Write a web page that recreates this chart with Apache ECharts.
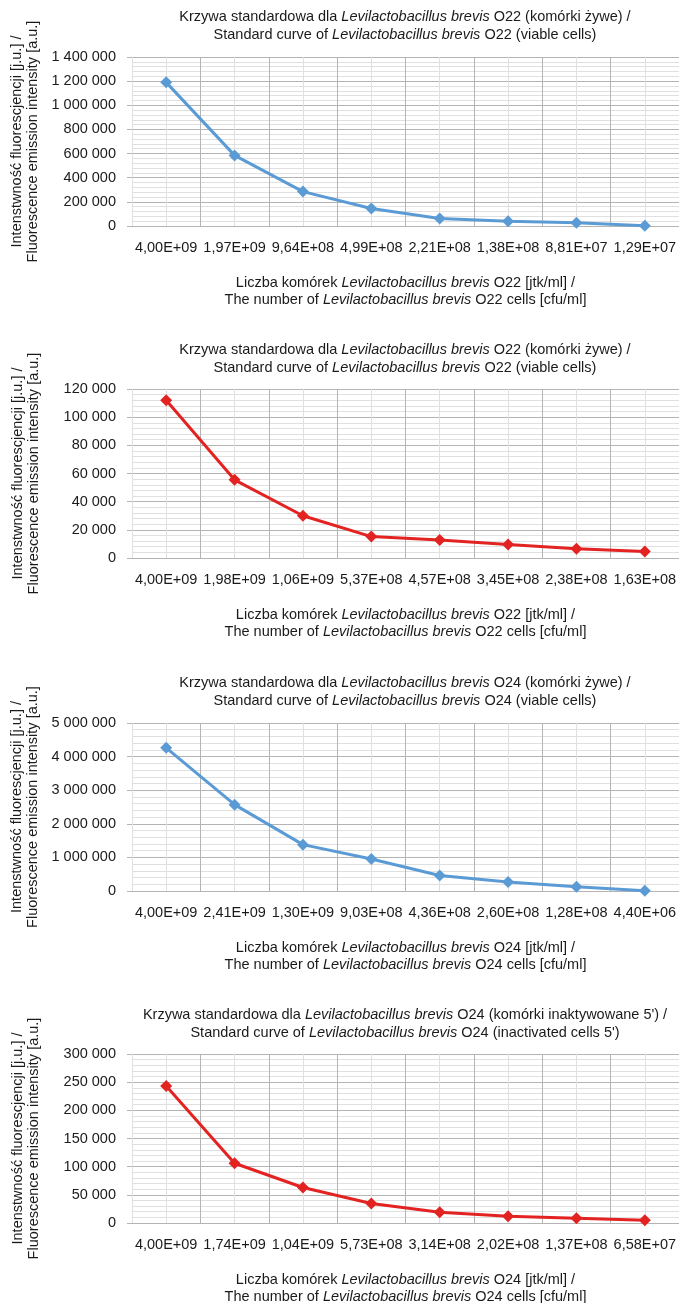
<!DOCTYPE html>
<html>
<head>
<meta charset="utf-8">
<script src="https://cdn.jsdelivr.net/npm/echarts@6/dist/echarts.min.js"></script>
<style>
html,body{margin:0;padding:0;background:#fff;}
#c{width:679px;height:1303px;}
</style>
</head>
<body>
<div id="c"></div>
<script>
// ---- data ----
const categories1 = ['4,00E+09','1,97E+09','9,64E+08','4,99E+08','2,21E+08','1,38E+08','8,81E+07','1,29E+07'];
const values1 = [1190000, 585000, 285000, 145000, 63000, 40000, 27000, 3000];

const categories2 = ['4,00E+09','1,98E+09','1,06E+09','5,37E+08','4,57E+08','3,45E+08','2,38E+08','1,63E+08'];
const values2 = [112000, 55500, 30000, 15200, 12800, 9500, 6600, 4600];

const categories3 = ['4,00E+09','2,41E+09','1,30E+09','9,03E+08','4,36E+08','2,60E+08','1,28E+08','4,40E+06'];
const values3 = [4260000, 2570000, 1380000, 950000, 460000, 270000, 130000, 10000];

const categories4 = ['4,00E+09','1,74E+09','1,04E+09','5,73E+08','3,14E+08','2,02E+08','1,37E+08','6,58E+07'];
const values4 = [243000, 106000, 63000, 34500, 19000, 12000, 8300, 4700];

const yMax = [1400000, 120000, 5000000, 300000];
const yStep = [200000, 20000, 1000000, 50000];

const strains = ['O22', 'O22', 'O24', 'O24'];
const statePL = ['komórki żywe', 'komórki żywe', 'komórki żywe', "komórki inaktywowane 5'"];
const stateEN = ['viable cells', 'viable cells', 'viable cells', "inactivated cells 5'"];
const yNameLines = ['Intenstwność fluorescjencji [j.u.] /', 'Fluorescence emission intensity [a.u.]'];
const species = 'Levilactobacillus brevis';

// ---- layout ----
const FONT = "'Liberation Sans', Arial, sans-serif";
const FS = 14.5;
const TXT = '#1a1a1a';
const MAJOR = '#b4b4b4';
const MINOR = '#e0e0e0';
const BLUE = '#5b9bd5';
const RED = '#e32322';
const gridTops = [57, 389, 723, 1054];
const gridH = [169, 169, 168, 169];
const titleTops = [8, 341, 674, 1006];

const rich = {
  n: {fontFamily: FONT, fontSize: FS, color: TXT, fontWeight: 'normal', lineHeight: 18.3},
  i: {fontFamily: FONT, fontSize: FS, color: TXT, fontWeight: 'normal', fontStyle: 'italic', lineHeight: 18.3}
};
const richAx = {
  n: {fontFamily: FONT, fontSize: FS, color: TXT, lineHeight: 17},
  i: {fontFamily: FONT, fontSize: FS, color: TXT, fontStyle: 'italic', lineHeight: 17}
};
const richY = {
  n: {fontFamily: FONT, fontSize: FS, color: TXT, lineHeight: 16}
};

const allCats = [categories1, categories2, categories3, categories4];
const allVals = [values1, values2, values3, values4];
const colors = [BLUE, RED, BLUE, RED];

function fmt(v) {
  return String(v).replace(/\B(?=(\d{3})+(?!\d))/g, ' ');
}

const option = {
  backgroundColor: '#fff',
  animation: false,
  title: [], grid: [], xAxis: [], yAxis: [], series: []
};

for (let g = 0; g < 4; g++) {
  option.title.push({
    left: 405, top: titleTops[g], textAlign: 'center', padding: 0,
    text: '{n|Krzywa standardowa dla }{i|' + species + '}{n| ' + strains[g] + ' (' + statePL[g] + ') /}\n' +
          '{n|Standard curve of }{i|' + species + '}{n| ' + strains[g] + ' (' + stateEN[g] + ')}',
    textStyle: {fontWeight: 'normal', rich: rich}
  });
  option.grid.push({left: 132, right: 0, top: gridTops[g], height: gridH[g],
    containLabel: false, outerBoundsMode: 'none'});
  const n = allCats[g].length;
  // category axis (labels)
  option.xAxis.push({
    type: 'category', gridIndex: g, data: allCats[g], boundaryGap: true,
    axisLine: {show: true, lineStyle: {color: MAJOR, width: 1}},
    axisTick: {show: false},
    axisLabel: {fontFamily: FONT, fontSize: FS, color: TXT, margin: 14, interval: 0},
    splitLine: {show: false},
    name: '{n|Liczba komórek }{i|' + species + '}{n| ' + strains[g] + ' [jtk/ml] /}\n' +
          '{n|The number of }{i|' + species + '}{n| ' + strains[g] + ' cells [cfu/ml]}',
    nameLocation: 'middle', nameGap: 48,
    nameTextStyle: {rich: richAx}
  });
  // helper value axis for vertical grid lines
  const vcols = [MINOR];
  for (let k = 0; k < n; k++) vcols.push(MAJOR);
  option.xAxis.push({
    type: 'value', gridIndex: g, min: 0, max: n, interval: 1, position: 'top',
    axisLine: {show: false}, axisTick: {show: false}, axisLabel: {show: false},
    splitLine: {show: true, lineStyle: {color: vcols, width: 1}},
    minorTick: {show: false, splitNumber: 2},
    minorSplitLine: {show: true, lineStyle: {color: MINOR, width: 1}}
  });
  option.yAxis.push({
    type: 'value', gridIndex: g, min: 0, max: yMax[g], interval: yStep[g],
    axisLine: {show: false},
    axisTick: {show: true, length: 5, lineStyle: {color: MAJOR}},
    axisLabel: {fontFamily: FONT, fontSize: FS, color: TXT, margin: 16, formatter: fmt},
    splitLine: {show: true, lineStyle: {color: MAJOR, width: 1}},
    minorTick: {show: false, splitNumber: 5},
    minorSplitLine: {show: true, lineStyle: {color: MINOR, width: 1}},
    name: '{n|' + yNameLines[0] + '}\n{n|' + yNameLines[1] + '}',
    nameLocation: 'middle', nameGap: 90,
    nameTextStyle: {rich: richY}
  });
  option.series.push({
    type: 'line', xAxisIndex: 2 * g, yAxisIndex: g, data: allVals[g],
    symbol: 'diamond', symbolSize: 12, showSymbol: true,
    lineStyle: {color: colors[g], width: 3},
    itemStyle: {color: colors[g]},
    z: 5
  });
}

const chart = echarts.init(document.getElementById('c'), null, {renderer: 'canvas'});
chart.setOption(option);
</script>
</body>
</html>
